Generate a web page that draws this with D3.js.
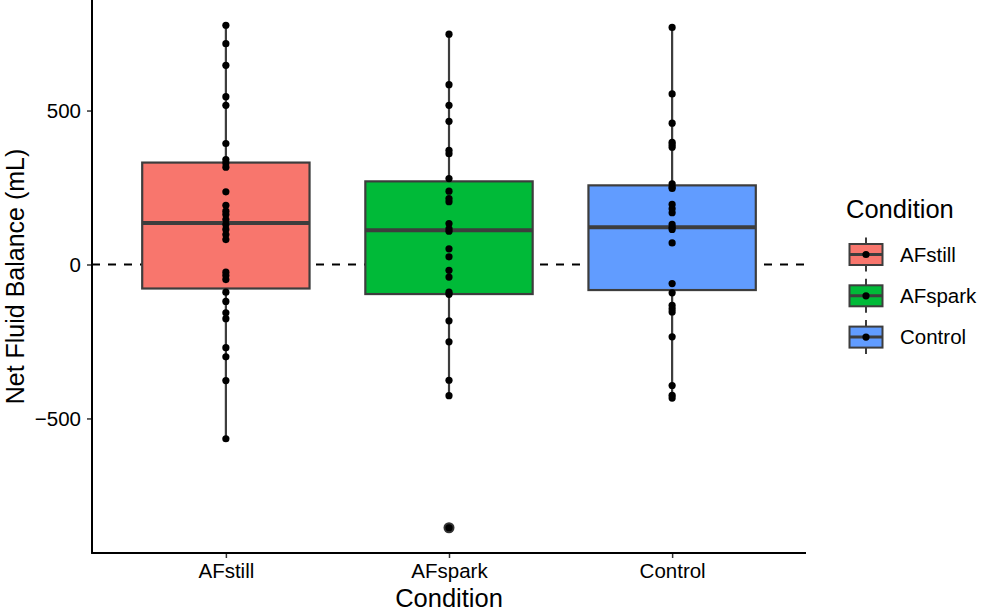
<!DOCTYPE html>
<html>
<head>
<meta charset="utf-8">
<script src="https://cdn.jsdelivr.net/npm/d3@7"></script>
<style>
  body { margin: 0; background: #fff; }
  text { font-family: "Liberation Sans", Arial, sans-serif; }
</style>
</head>
<body>
<div id="chart"></div>
<script>
// Conditions and their fill colours
const categories = ["AFstill", "AFspark", "Control"];
const fills = ["#F8766D", "#00BA38", "#619CFF"];

// Box statistics (mL)
const q1 = [-78, -96, -83];
const medians = [135, 111, 121];
const q3 = [331, 270, 257];
const whiskerLow = [-566, -426, -434];
const whiskerHigh = [777, 748, 770];

// Outliers drawn by the boxplot layer
const outlierCond = ["AFspark"];
const outlierVals = [-855];

// Individual observations per condition
const afstillVals = [777, 717, 647, 545, 517, 393, 341, 330, 316, 236, 192, 173, 162, 146, 130,
    114, 97, 81, -25, -36, -49, -90, -120, -157, -176, -270, -300, -377, -566];
const afsparkVals = [748, 584, 517, 465, 371, 360, 279, 238, 214, 204, 133, 116, 108, 51, 25,
    -19, -41, -90, -97, -183, -251, -376, -426, -855];
const controlVals = [770, 554, 459, 397, 389, 381, 262, 252, 247, 195, 181, 168, 130, 121, 114,
    70, -62, -92, -133, -144, -154, -235, -393, -425, -434];

const yTicks = [-500, 0, 500];

const width = 981, height = 611;
const plotLeft = 92, plotRight = 806, plotTop = 0, plotBottom = 553;

const svg = d3.select("#chart").append("svg")
    .attr("width", width)
    .attr("height", height);

const x = d3.scalePoint()
    .domain(categories)
    .range([plotLeft, plotRight])
    .padding(0.6);

const y = d3.scaleLinear()
    .domain([-937, 859])
    .range([plotBottom, plotTop]);

const boxWidth = x.step() * 0.75;
const boxStroke = "#3d3d3d";

// zero reference line
svg.append("line")
    .attr("x1", plotLeft)
    .attr("x2", plotRight)
    .attr("y1", y(0))
    .attr("y2", y(0))
    .attr("stroke", "#000")
    .attr("stroke-width", 2)
    .attr("stroke-dasharray", "8,8");

// boxplots
const boxes = categories.map((c, i) => ({
    cond: c, fill: fills[i], q1: q1[i], med: medians[i], q3: q3[i],
    lo: whiskerLow[i], hi: whiskerHigh[i]
}));

const bg = svg.append("g").selectAll("g")
    .data(boxes)
    .join("g");

bg.append("line")
    .attr("x1", d => x(d.cond))
    .attr("x2", d => x(d.cond))
    .attr("y1", d => y(d.hi))
    .attr("y2", d => y(d.q3))
    .attr("stroke", boxStroke)
    .attr("stroke-width", 2.2);

bg.append("line")
    .attr("x1", d => x(d.cond))
    .attr("x2", d => x(d.cond))
    .attr("y1", d => y(d.q1))
    .attr("y2", d => y(d.lo))
    .attr("stroke", boxStroke)
    .attr("stroke-width", 2.2);

bg.append("rect")
    .attr("x", d => x(d.cond) - boxWidth / 2)
    .attr("width", boxWidth)
    .attr("y", d => y(d.q3))
    .attr("height", d => y(d.q1) - y(d.q3))
    .attr("fill", d => d.fill)
    .attr("stroke", boxStroke)
    .attr("stroke-width", 2.2);

bg.append("line")
    .attr("x1", d => x(d.cond) - boxWidth / 2)
    .attr("x2", d => x(d.cond) + boxWidth / 2)
    .attr("y1", d => y(d.med))
    .attr("y2", d => y(d.med))
    .attr("stroke", boxStroke)
    .attr("stroke-width", 4);

// boxplot outliers
svg.append("g").selectAll("circle")
    .data(outlierVals.map((v, i) => ({ cond: outlierCond[i], v: v })))
    .join("circle")
    .attr("cx", d => x(d.cond))
    .attr("cy", d => y(d.v))
    .attr("r", 5.5)
    .attr("fill", "#333");

// points
const points = [];
[afstillVals, afsparkVals, controlVals].forEach((vals, i) => {
    vals.forEach(v => points.push({ cond: categories[i], v: v }));
});

svg.append("g").selectAll("circle")
    .data(points)
    .join("circle")
    .attr("cx", d => x(d.cond))
    .attr("cy", d => y(d.v))
    .attr("r", 3.6)
    .attr("fill", "#000");

// axes
const yAxis = svg.append("g")
    .attr("transform", "translate(" + plotLeft + ",0)")
    .call(d3.axisLeft(y).tickValues(yTicks).tickSize(5).tickPadding(6)
        .tickFormat(d => d < 0 ? "\u2212" + Math.abs(d) : d));

const xAxis = svg.append("g")
    .attr("transform", "translate(0," + plotBottom + ")")
    .call(d3.axisBottom(x).tickSize(5).tickPadding(5));

[xAxis, yAxis].forEach(a => {
    a.select(".domain").remove();
    a.selectAll(".tick line").attr("stroke", "#333").attr("stroke-width", 1.5);
    a.selectAll(".tick text")
        .attr("fill", "#000")
        .style("font-size", "20.5px")
        .style("font-family", '"Liberation Sans", Arial, sans-serif');
});

svg.append("line")
    .attr("x1", plotLeft).attr("x2", plotLeft)
    .attr("y1", plotTop).attr("y2", plotBottom + 0.75)
    .attr("stroke", "#000").attr("stroke-width", 2);

svg.append("line")
    .attr("x1", plotLeft - 0.75).attr("x2", plotRight)
    .attr("y1", plotBottom).attr("y2", plotBottom)
    .attr("stroke", "#000").attr("stroke-width", 2);

// axis titles
svg.append("text")
    .attr("x", (plotLeft + plotRight) / 2)
    .attr("y", 607)
    .attr("text-anchor", "middle")
    .style("font-size", "25.5px")
    .text("Condition");

svg.append("text")
    .attr("transform", "translate(24," + (plotTop + plotBottom) / 2 + ") rotate(-90)")
    .attr("text-anchor", "middle")
    .style("font-size", "25px")
    .text("Net Fluid Balance (mL)");

// legend
const legend = svg.append("g")
    .attr("transform", "translate(846,0)");

legend.append("text")
    .attr("x", 0)
    .attr("y", 218)
    .style("font-size", "25.5px")
    .text("Condition");

const keys = legend.selectAll("g.key")
    .data(categories.map((c, i) => ({ cond: c, fill: fills[i], cy: 254.5 + i * 41.3 })))
    .join("g")
    .attr("class", "key");

keys.append("line")
    .attr("x1", 20).attr("x2", 20)
    .attr("y1", d => d.cy - 17)
    .attr("y2", d => d.cy + 17)
    .attr("stroke", boxStroke)
    .attr("stroke-width", 2);

keys.append("rect")
    .attr("x", 3.5)
    .attr("width", 33)
    .attr("y", d => d.cy - 10.5)
    .attr("height", 21)
    .attr("fill", d => d.fill)
    .attr("stroke", boxStroke)
    .attr("stroke-width", 2);

keys.append("line")
    .attr("x1", 3.5).attr("x2", 36.5)
    .attr("y1", d => d.cy)
    .attr("y2", d => d.cy)
    .attr("stroke", boxStroke)
    .attr("stroke-width", 3);

keys.append("circle")
    .attr("cx", 20)
    .attr("cy", d => d.cy)
    .attr("r", 3.6)
    .attr("fill", "#000");

keys.append("text")
    .attr("x", 54)
    .attr("y", d => d.cy + 7.3)
    .style("font-size", "20.5px")
    .text(d => d.cond);
</script>
</body>
</html>
